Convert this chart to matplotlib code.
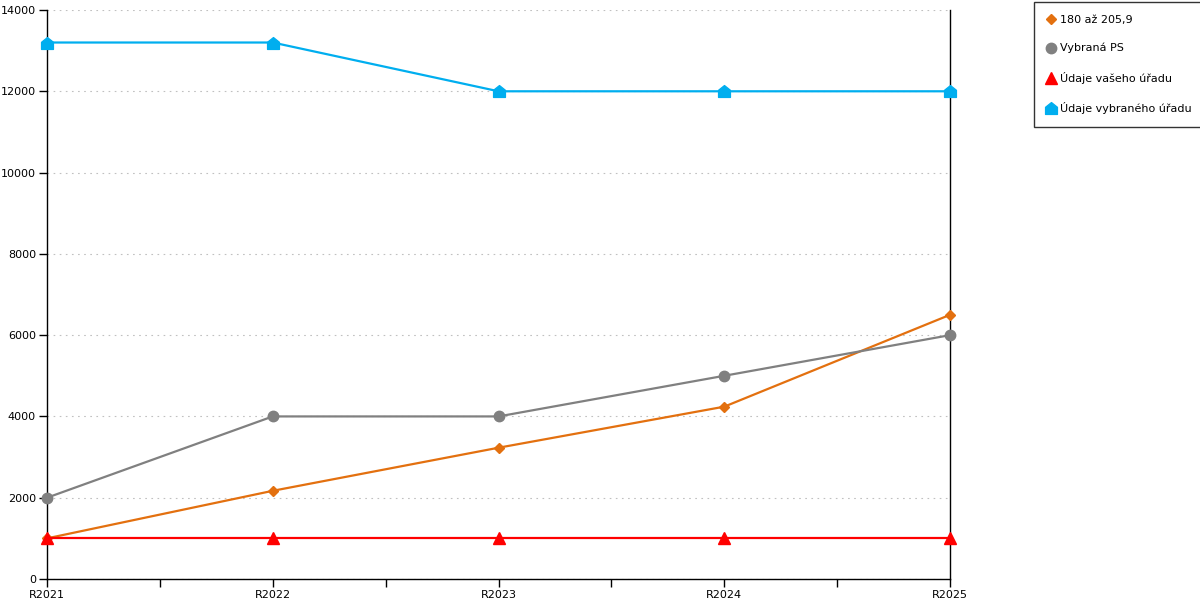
import matplotlib
matplotlib.use("Agg")
import matplotlib.pyplot as plt
from matplotlib.path import Path
from matplotlib.lines import Line2D
from matplotlib.ticker import MultipleLocator

years = ["R2021", "R2022", "R2023", "R2024", "R2025"]
rozsah = [1000, 2170, 3230, 4240, 6500]
vybrana_ps = [2000, 4000, 4000, 5000, 6000]
vas_urad = [1000, 1000, 1000, 1000, 1000]
vybrany_urad = [13200, 13200, 12000, 12000, 12000]

# marker ve tvaru domecku
house = Path([(-1, -1), (1, -1), (1, 0.2), (0, 1), (-1, 0.2), (-1, -1)],
             [Path.MOVETO, Path.LINETO, Path.LINETO, Path.LINETO, Path.LINETO, Path.CLOSEPOLY])

series = [
    (rozsah, "180 až 205,9", "#e3700f", "D", 5.5),
    (vybrana_ps, "Vybraná PS", "#808080", "o", 7.5),
    (vas_urad, "Údaje vašeho úřadu", "#ff0000", "^", 8.5),
    (vybrany_urad, "Údaje vybraného úřadu", "#00aeef", house, 8.5),
]

fig = plt.figure(figsize=(12, 6), dpi=100)
ax = fig.add_axes([47 / 1200, 21 / 600, 903 / 1200, 569 / 600])

x = list(range(len(years)))
handles = []
for vals, label, color, marker, ms in series:
    ax.plot(x, vals, color=color, lw=1.6, marker=marker, markersize=ms, zorder=3, clip_on=False)
    handles.append(Line2D([], [], color=color, marker=marker, linestyle="none", markersize=ms))

ax.set_xlim(0, len(years) - 1)
ax.set_ylim(0, 14000)
ax.set_xticks(x)
ax.set_xticklabels(years)
ax.xaxis.set_minor_locator(MultipleLocator(0.5))
ax.yaxis.set_major_locator(MultipleLocator(2000))
ax.tick_params(axis="both", labelsize=8, length=6, width=1, color="black", pad=2)
ax.tick_params(axis="x", which="minor", length=6, width=1)
ax.grid(axis="y", color="#c0c0c0", linestyle=(0, (1.5, 4)), lw=0.8)
ax.set_axisbelow(True)
ax.spines["top"].set_visible(False)
for s in ["left", "bottom", "right"]:
    ax.spines[s].set_color("black")
    ax.spines[s].set_linewidth(1)

leg = fig.legend(handles, [s[1] for s in series], loc="upper left",
                 bbox_to_anchor=(1034 / 1200, 1 - 2 / 600), fontsize=8,
                 frameon=True, fancybox=False, edgecolor="black",
                 handlelength=0.8, handletextpad=0.4, labelspacing=1.65,
                 borderpad=1.13, borderaxespad=0)
leg.get_frame().set_linewidth(1)

fig.savefig("out.png", dpi=100)
